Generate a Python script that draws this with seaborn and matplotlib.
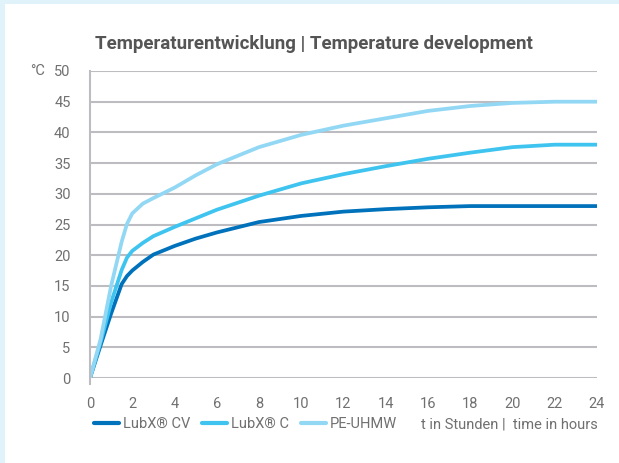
import pandas as pd
import seaborn as sns
import matplotlib.pyplot as plt
from matplotlib.patches import Rectangle

# values
hours = [0, 0.5, 1, 1.5, 1.75, 2, 2.5, 3, 4, 5, 6, 8, 10, 12, 14, 16, 18, 20, 22, 24]
lubx_cv = [0, 5.3, 10.5, 15.3, 16.6, 17.5, 18.9, 20.1, 21.5, 22.7, 23.7, 25.4, 26.4, 27.1,
           27.5, 27.8, 28.0, 28.0, 28.0, 28.0]
lubx_c = [0, 5.8, 12.3, 17.6, 19.6, 20.7, 22.0, 23.1, 24.6, 26.0, 27.4, 29.7, 31.7, 33.2,
          34.5, 35.7, 36.7, 37.6, 38.0, 38.0]
pe_uhmw = [0, 6.3, 15.0, 22.2, 25.1, 26.8, 28.4, 29.3, 31.0, 33.0, 34.8, 37.6, 39.6, 41.1,
           42.3, 43.5, 44.3, 44.8, 45.0, 45.0]

series = ["LubX® CV", "LubX® C", "PE-UHMW"]
colors = ["#0072BB", "#3EC4EF", "#92D8F4"]
x_ticks = list(range(0, 25, 2))
y_ticks = list(range(0, 51, 5))

df = pd.DataFrame({"t": hours, series[0]: lubx_cv, series[1]: lubx_c, series[2]: pe_uhmw})
long_df = df.melt(id_vars="t", var_name="material", value_name="temp")

sns.set_theme(style="white")
plt.rcParams["font.family"] = ["Roboto", "DejaVu Sans"]

grey = "#BDBDC1"
txt = "#707070"

fig = plt.figure(figsize=(6.19, 4.63), dpi=100)
fig.patch.set_facecolor("#E0F3FA")
fig.patches.append(Rectangle((5 / 619, 0), 1, 1 - 4 / 463, transform=fig.transFigure,
                             facecolor="white", edgecolor="none", zorder=-5))

ax = fig.add_axes([90 / 619, 85 / 463, 507 / 619, 307 / 463])
ax.set_facecolor("none")
ax.set_zorder(2)

sns.lineplot(data=long_df, x="t", y="temp", hue="material", palette=colors,
             hue_order=series, linewidth=2.7, ax=ax, legend=False)
for line in ax.lines:
    line.set_solid_joinstyle("round")

ax.set_xlim(0, 24)
ax.set_ylim(0, 50)
ax.set_xticks(x_ticks)
ax.set_yticks(y_ticks)
ax.set_xlabel("")
ax.set_ylabel("")
ax.yaxis.grid(True, color=grey, linewidth=1.5)
ax.set_axisbelow(True)
for s in ["top", "right", "bottom"]:
    ax.spines[s].set_visible(False)
ax.spines["left"].set_color(grey)
ax.spines["left"].set_linewidth(1.5)
ax.spines["left"].set_bounds(-1, 50)
ax.tick_params(axis="both", colors=grey, labelcolor=txt, labelsize=10.5, width=1.5)
ax.tick_params(axis="y", length=7, pad=7)
ax.tick_params(axis="x", length=6, pad=8)

ax.text(-0.088, 1.0, "°C", transform=ax.transAxes, ha="right", va="center",
        color=txt, fontsize=10.5)

fig.text(314 / 619, 1 - 44 / 463, "Temperaturentwicklung | Temperature development",
         ha="center", va="center", fontsize=13.5, fontweight="bold", color="#555555")

handles = [plt.Line2D([], [], color=c, linewidth=3) for c in colors]
fig.legend(handles, series, loc="center left", bbox_to_anchor=(88 / 619, 1 - 424 / 463),
           ncol=3, frameon=False, fontsize=10.5, labelcolor=txt, handlelength=1.7,
           handletextpad=0.3, columnspacing=0.8, borderaxespad=0)

fig.text(598 / 619, 1 - 424 / 463, "t in Stunden |  time in hours", ha="right",
         va="center", fontsize=10.5, color=txt)

fig.savefig("out.png", dpi=100)
